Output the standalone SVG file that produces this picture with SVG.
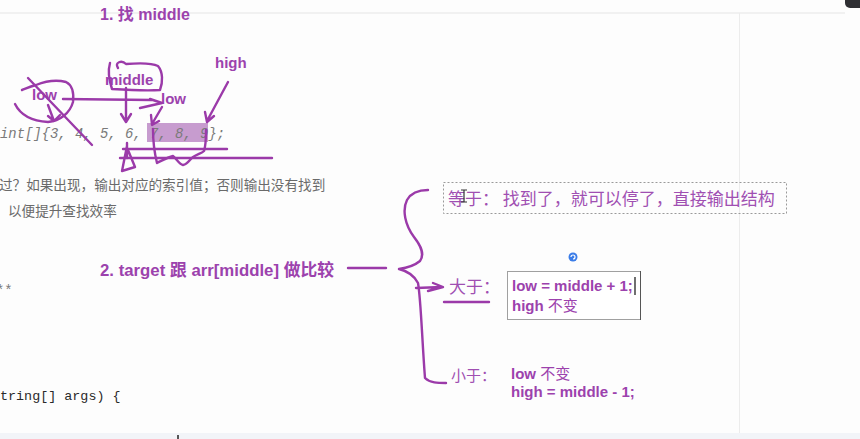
<svg xmlns="http://www.w3.org/2000/svg" width="860" height="439" viewBox="0 0 860 439">
<style>
.bg{fill:#fdfdfd}
.pt{fill:#9c42ad;font-family:"Liberation Sans","Noto Sans CJK SC",sans-serif;font-weight:bold}
.pc{fill:#a04fb2;font-family:"Noto Sans CJK SC",sans-serif}
.gc{fill:#6a6a6a;font-family:"Noto Sans CJK SC",sans-serif;font-size:13.6px}
.code{fill:#7a7a7a;font-family:"Liberation Mono",monospace;font-style:italic;font-size:13.9px}
.code2{fill:#2a2a2a;font-family:"Liberation Mono",monospace;font-size:13.4px}
.ink{fill:none;stroke:#9b3aa9;stroke-width:2.4;stroke-linecap:round;stroke-linejoin:round}
</style>
<rect class="bg" x="0" y="0" width="860" height="439"/>
<line x1="0" y1="13" x2="845" y2="13" stroke="#ececec" stroke-width="1.5"/>
<rect x="845" y="-12" width="30" height="20" rx="5" fill="#2f2f33"/>
<line x1="739.5" y1="13" x2="739.5" y2="433" stroke="#ececec" stroke-width="1"/>
<rect x="0" y="433" width="860" height="6" fill="#f2f4f8"/>
<line x1="178" y1="435" x2="178" y2="439" stroke="#222" stroke-width="1.5"/>

<g id="title1"><text class="pt" x="100" y="20" font-size="16">1. 找 middle</text></g>

<g id="code-line">
<rect x="147" y="123" width="61" height="19" fill="#c79ccf"/>
<text class="code" x="0" y="138">int[]{3, 4, 5, 6, 7, 8, 9};</text>
</g>
<g id="desc">
<text class="gc" x="-1" y="190">过？如果出现，输出对应的索引值；否则输出没有找到</text>
<text class="gc" x="8" y="216">以便提升查找效率</text>
<text class="code" x="-4" y="295" style="font-style:normal">**</text>
<text class="code2" x="0" y="400">tring[] args) {</text>
</g>

<g id="label-low1"><text class="pt" x="32" y="100" font-size="15">low</text></g>
<g id="label-middle"><text class="pt" x="105" y="85" font-size="15">middle</text></g>
<g id="label-low2"><text class="pt" x="161" y="104" font-size="15">low</text></g>
<g id="label-high"><text class="pt" x="215" y="68" font-size="15">high</text></g>

<g id="title2"><text class="pt" x="100" y="276" font-size="16.8">2. target 跟 arr[middle] 做比较</text></g>

<g id="equal">
<rect x="443.5" y="182.5" width="343" height="31" fill="none" stroke="#9a9a9a" stroke-width="1" stroke-dasharray="2,2"/>
<text class="pc" x="448" y="205" font-size="17">等于：  找到了，就可以停了，直接输出结构</text>
</g>
<g id="cursor1"><path d="M461 190h6M464 190v12M461 202h6" stroke="#333" stroke-width="1.2" fill="none"/></g>
<g id="spiral"><circle cx="573" cy="257" r="4.5" fill="#3b7de8"/><path d="M573 257m-2 0a2 2 0 1 1 2 2" stroke="#fff" stroke-width="1.2" fill="none"/></g>

<g id="greater">
<text class="pc" x="449" y="293" font-size="17">大于：</text>
<rect x="507.5" y="271.5" width="133" height="48" fill="#fff" stroke="#a0a0a0" stroke-width="1"/>
<line x1="640.5" y1="271" x2="640.5" y2="320" stroke="#555" stroke-width="1"/>
<text class="pt" x="512" y="291" font-size="15">low = middle + 1;</text>
<line x1="635" y1="277" x2="635" y2="295" stroke="#222" stroke-width="1.3"/>
<text class="pt" x="512" y="311" font-size="15">high <tspan font-weight="normal" font-family="Noto Sans CJK SC,sans-serif">不变</tspan></text>
</g>

<g id="less">
<text class="pc" x="451" y="381" font-size="15">小于：</text>
<text class="pt" x="511" y="379" font-size="15">low <tspan font-weight="normal" font-family="Noto Sans CJK SC,sans-serif">不变</tspan></text>
<text class="pt" x="511" y="397" font-size="15">high = middle - 1;</text>
</g>

<g id="connectors">
<path class="ink" d="M15 104C20 114 30 121 48 122C60 121 70 113 73 102C74 93 72 85 66 82C58 80 46 81 36 85C29 87 25 89 22 90"/>
<path class="ink" d="M28 78L92 145"/>
<path class="ink" d="M48 105L54 121M48 116L54 121L60 115"/>
<path class="ink" d="M63 99L152 100M140 108L162 103L150 99"/>
<path class="ink" d="M118 68C114 62 122 60 126 64C138 63 152 63 158 66C163 72 163 82 160 90C146 91 128 90 112 89C109 80 108 70 110 63"/>
<path class="ink" d="M126 88L126 121M121 114L126 122L131 114"/>
<path class="ink" d="M162 107L152 124M151 115L152 125L159 121"/>
<path class="ink" d="M228 82L207 121M205 112L207 122L214 116"/>
<path class="ink" d="M123 149L227 149"/>
<path class="ink" d="M120 158L272 158"/>
<path class="ink" d="M127 143L127 158M127 146L122 171L135 167L128 150"/>
<path class="ink" d="M153 129C153 140 155 155 157 163C163 160 168 157 173 156C176 158 179 164 183 165C188 164 190 159 193 157C198 154 202 153 204 151C206 145 206 138 206 130"/>
<path class="ink" d="M348 268L386 268"/>
<path class="ink" d="M428 190C418 190 411 193 407 200C402 210 405 225 414 237C421 246 425 254 420 261C414 266 406 268 399 269C407 271 414 275 418 283C421 300 422 340 425 378C430 383 438 383 446 383"/>
<path class="ink" d="M416 288L442 287M428 291L443 287L433 283"/>
<path class="ink" d="M444 302L489 302"/>
</g>
</svg>
